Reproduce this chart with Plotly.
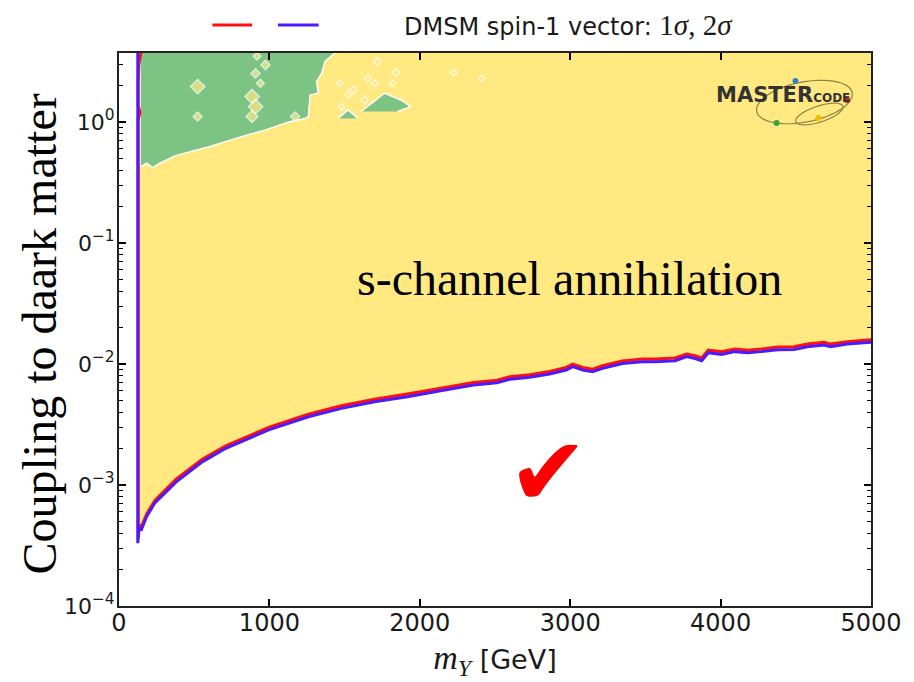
import numpy as np
import plotly.graph_objects as go

# ---------------- data ----------------
Y_TOP_LOG = 0.57          # top of the log axis (10**0.57)
Y_TOP = 10 ** Y_TOP_LOG
X_MAX = 5000

# 2 sigma (blue) boundary of the allowed region
mass_2sigma = [125, 125, 132, 150, 183, 237, 380, 556, 710, 995, 1259, 1479, 1699, 1918, 2138, 2358,
               2512, 2599, 2731, 2863, 2973, 3017, 3083, 3149, 3215, 3347, 3479, 3566, 3698, 3775,
               3830, 3874, 3918, 4006, 4094, 4181, 4269, 4379, 4489, 4577, 4687, 4731, 4841, 4962, 5000]
coupling_2sigma = [3.72, 3.3e-4, 4.4e-4, 4.3e-4, 5.47e-4, 7.06e-4, 1.06e-3, 1.56e-3, 2.01e-3, 2.85e-3,
                   3.66e-3, 4.3e-3, 4.88e-3, 5.37e-3, 6.0e-3, 6.7e-3,
                   7.0e-3, 7.48e-3, 7.77e-3, 8.26e-3, 8.91e-3, 9.5e-3, 8.9e-3, 8.63e-3, 9.2e-3, 1.01e-2,
                   1.045e-2, 1.045e-2, 1.064e-2, 1.15e-2, 1.11e-2, 1.064e-2, 1.24e-2, 1.20e-2, 1.265e-2,
                   1.24e-2, 1.265e-2, 1.31e-2, 1.32e-2, 1.39e-2, 1.435e-2, 1.39e-2, 1.46e-2, 1.50e-2, 1.51e-2]

# 1 sigma (red) boundary
mass_1sigma = [145, 132, 128, 128, 140, 128, 128, 136, 152, 185, 240,
               380, 556, 710, 995, 1259, 1479, 1699, 1918, 2138, 2358,
               2512, 2599, 2731, 2863, 2973, 3017, 3083, 3149, 3215, 3347, 3479, 3566, 3698, 3775,
               3830, 3874, 3918, 4006, 4094, 4181, 4269, 4379, 4489, 4577, 4687, 4731, 4841, 4962, 5000]
coupling_1sigma = [3.72, 3.0, 2.2, 1.35, 1.2, 1.05, 3.6e-4, 4.7e-4, 4.6e-4, 5.8e-4, 7.5e-4,
                   1.12e-3, 1.64e-3, 2.11e-3, 2.99e-3, 3.84e-3, 4.52e-3, 5.12e-3, 5.64e-3, 6.3e-3, 7.04e-3,
                   7.35e-3, 7.85e-3, 8.16e-3, 8.67e-3, 9.36e-3, 9.98e-3, 9.35e-3, 9.06e-3, 9.66e-3, 1.06e-2,
                   1.10e-2, 1.10e-2, 1.12e-2, 1.21e-2, 1.17e-2, 1.12e-2, 1.30e-2, 1.26e-2, 1.33e-2,
                   1.30e-2, 1.33e-2, 1.38e-2, 1.39e-2, 1.46e-2, 1.51e-2, 1.46e-2, 1.53e-2, 1.58e-2, 1.59e-2]

# green (other mechanism) region, main patch + two islands
green_main_mass = [140, 140, 150, 183, 226, 270, 380, 600, 819, 974, 1127, 1237, 1259, 1270, 1325,
                   1314, 1347, 1369, 1435]
green_main_coupling = [3.72, 0.43, 0.43, 0.456, 0.42, 0.456, 0.53, 0.625, 0.76, 0.86, 1.0, 1.07, 1.11,
                       1.67, 1.73, 2.15, 2.52, 3.15, 3.72]
green_island1_mass = [1457, 1523, 1589]
green_island1_coupling = [1.07, 1.26, 1.07]
green_island2_mass = [1611, 1765, 1874, 1940, 1852]
green_island2_coupling = [1.22, 1.73, 1.52, 1.34, 1.22]

# small scattered spots (white-rimmed pixels of the scan)
spot_mass = [523, 1171, 908, 974, 918, 940, 523, 885, 908, 885,
             1720, 1841, 1468, 1655, 1699, 1819, 1556, 1523, 1633, 1479, 2226, 2413]
spot_coupling = [1.11, 1.11, 2.52, 2.96, 3.5, 2.09, 1.96, 1.62, 1.34, 1.11,
                 3.15, 2.56, 2.09, 2.3, 2.09, 2.09, 1.84, 1.67, 1.52, 1.34, 2.56, 2.3]
spot_size = [7, 7, 7, 7, 6, 6, 11, 11, 11, 9,
             6, 6, 5, 5, 5, 5, 6, 5, 6, 5, 5, 5]

x_ticks = [0, 1000, 2000, 3000, 4000, 5000]
y_ticks = [1e-4, 1e-3, 1e-2, 1e-1, 1]
y_ticktext = ["10<sup>\u22124</sup>", "10<sup>\u22123</sup>", "10<sup>\u22122</sup>",
              "10<sup>\u22121</sup>", "10<sup>0</sup>"]
y_minor = [k * 10.0 ** e for e in range(-4, 1) for k in range(2, 10) if k * 10.0 ** e < Y_TOP]

YELLOW = "#ffe980"
GREEN = "#7dc383"
RED = "#ff1010"
BLUE = "#4d1aff"

# ---------------- figure ----------------
fig = go.Figure()

fig.add_trace(go.Scatter(
    x=mass_2sigma + [X_MAX], y=coupling_2sigma + [Y_TOP],
    fill="toself", fillcolor=YELLOW, mode="none", hoverinfo="skip", showlegend=False))

gx = green_main_mass + [None] + green_island1_mass + [None] + green_island2_mass
gy = green_main_coupling + [None] + green_island1_coupling + [None] + green_island2_coupling
fig.add_trace(go.Scatter(
    x=gx, y=gy, fill="toself", fillcolor=GREEN, mode="lines",
    line=dict(color="white", width=1.5), hoverinfo="skip", showlegend=False))

fig.add_trace(go.Scatter(
    x=spot_mass, y=spot_coupling, mode="markers",
    marker=dict(symbol="diamond", size=spot_size, color=YELLOW, line=dict(color="white", width=1.5)),
    hoverinfo="skip", showlegend=False))

fig.add_trace(go.Scatter(x=mass_1sigma, y=coupling_1sigma, mode="lines",
                         line=dict(color=RED, width=3), showlegend=False))
fig.add_trace(go.Scatter(x=mass_2sigma, y=coupling_2sigma, mode="lines",
                         line=dict(color=BLUE, width=3), showlegend=False))

# page layout: the browser adds an 8px body margin, so the figure is shrunk accordingly
OFF = 8
W, H = 914 - OFF, 682 - OFF
# plot area in page pixels: x 119..876, y 53..606
L, R, T, B = 119 - OFF, W - (876 - OFF), 53 - OFF, H - (606 - OFF)
PW, PH = W - L - R, H - T - B


def px_to_paper(px, py):
    """page pixel -> paper coordinates"""
    return (px - OFF - L) / PW, (H - B - (py - OFF)) / PH


shapes = []
for x0, x1, col in [(213, 253, RED), (279, 320, BLUE)]:
    a = px_to_paper(x0, 25)
    b = px_to_paper(x1, 25)
    shapes.append(dict(type="line", xref="paper", yref="paper", x0=a[0], y0=a[1], x1=b[0], y1=b[1],
                       line=dict(color=col, width=3)))


def ellipse_path(cx, cy, a, b, ang_deg):
    t = np.linspace(0, 2 * np.pi, 60)
    ang = np.deg2rad(ang_deg)
    xs = cx + a * np.cos(t) * np.cos(ang) - b * np.sin(t) * np.sin(ang)
    ys = cy - (a * np.cos(t) * np.sin(ang) + b * np.sin(t) * np.cos(ang))
    pts = [px_to_paper(x, y) for x, y in zip(xs, ys)]
    return "M " + " L ".join(f"{p[0]:.5f},{p[1]:.5f}" for p in pts) + " Z"


for cx, cy, a, b, ang in [(809, 102, 49, 20, 11), (824, 114, 25, 8, 18)]:
    shapes.append(dict(type="path", xref="paper", yref="paper", path=ellipse_path(cx, cy, a, b, ang),
                       line=dict(color="#8c8446", width=1.2)))
for cx, cy, col in [(800, 81, "#3a7fc0"), (852, 100, "#e02020"), (781, 123, "#3aa040"), (823, 118, "#f0c000")]:
    p0 = px_to_paper(cx - 3, cy - 3)
    p1 = px_to_paper(cx + 3, cy + 3)
    shapes.append(dict(type="circle", xref="paper", yref="paper", x0=p0[0], y0=p1[1], x1=p1[0], y1=p0[1],
                       fillcolor=col, line=dict(width=0)))

annotations = []
lx, ly = px_to_paper(404, 25)
annotations.append(dict(
    xref="paper", yref="paper", x=lx, y=ly, xanchor="left", yanchor="middle", showarrow=False,
    text="DMSM spin-1 vector: <span style='font-family:Liberation Serif;font-size:29px'>1<i>\u03c3</i>, 2<i>\u03c3</i></span>",
    font=dict(family="DejaVu Sans", size=24, color="#1a1a1a")))

tx, ty = px_to_paper(38, 334)
annotations.append(dict(
    xref="paper", yref="paper", x=tx, y=ty, xanchor="center", yanchor="middle", showarrow=False,
    text="Coupling to daark matter", textangle=-90, bgcolor="white", borderpad=13,
    font=dict(family="Liberation Serif", size=48, color="black")))

sx, sy = px_to_paper(572, 278)
annotations.append(dict(
    xref="paper", yref="paper", x=sx, y=sy, xanchor="center", yanchor="middle", showarrow=False,
    text="s-channel annihilation", font=dict(family="Liberation Serif", size=48, color="black")))

cx_, cy_ = px_to_paper(551, 472)
annotations.append(dict(
    xref="paper", yref="paper", x=cx_, y=cy_, xanchor="center", yanchor="middle", showarrow=False,
    text="\u2714", font=dict(family="DejaVu Sans", size=96, color="#ff0000")))

mx, my = px_to_paper(718, 95)
annotations.append(dict(
    xref="paper", yref="paper", x=mx, y=my, xanchor="left", yanchor="middle", showarrow=False,
    text="<b>MASTER</b><span style='font-size:12px'><b>CODE</b></span>",
    font=dict(family="DejaVu Sans", size=21, color="#333333")))

fig.update_layout(
    width=W, height=H, autosize=False,
    margin=dict(l=L, r=R, t=T, b=B, pad=0),
    plot_bgcolor="white", paper_bgcolor="white",
    shapes=shapes, annotations=annotations,
    xaxis=dict(
        range=[0, X_MAX], tickmode="array", tickvals=x_ticks,
        ticks="inside", ticklen=7, tickwidth=1.5, tickcolor="black",
        showline=True, linecolor="#222222", linewidth=2, mirror="allticks",
        showgrid=False, zeroline=False, ticklabelstandoff=-6,
        tickfont=dict(family="DejaVu Sans", size=24, color="#1a1a1a"),
        title=dict(text="<span style='font-family:Liberation Serif;font-size:34px'><i>m</i><sub><i>Y</i></sub></span> [GeV]",
                   font=dict(family="DejaVu Sans", size=27, color="#1a1a1a"), standoff=14),
    ),
    yaxis=dict(
        type="log", range=[-4, Y_TOP_LOG], tickmode="array", tickvals=y_ticks, ticktext=y_ticktext,
        ticks="inside", ticklen=7, tickwidth=1.5, tickcolor="black",
        minor=dict(tickmode="array", tickvals=y_minor, ticks="inside", ticklen=4, tickwidth=1,
                   tickcolor="black"),
        showline=True, linecolor="#222222", linewidth=2, mirror="allticks",
        showgrid=False, zeroline=False, ticklabelstandoff=-2,
        tickfont=dict(family="DejaVu Sans", size=22, color="#1a1a1a"),
    ),
)

fig.write_html("out.html")
